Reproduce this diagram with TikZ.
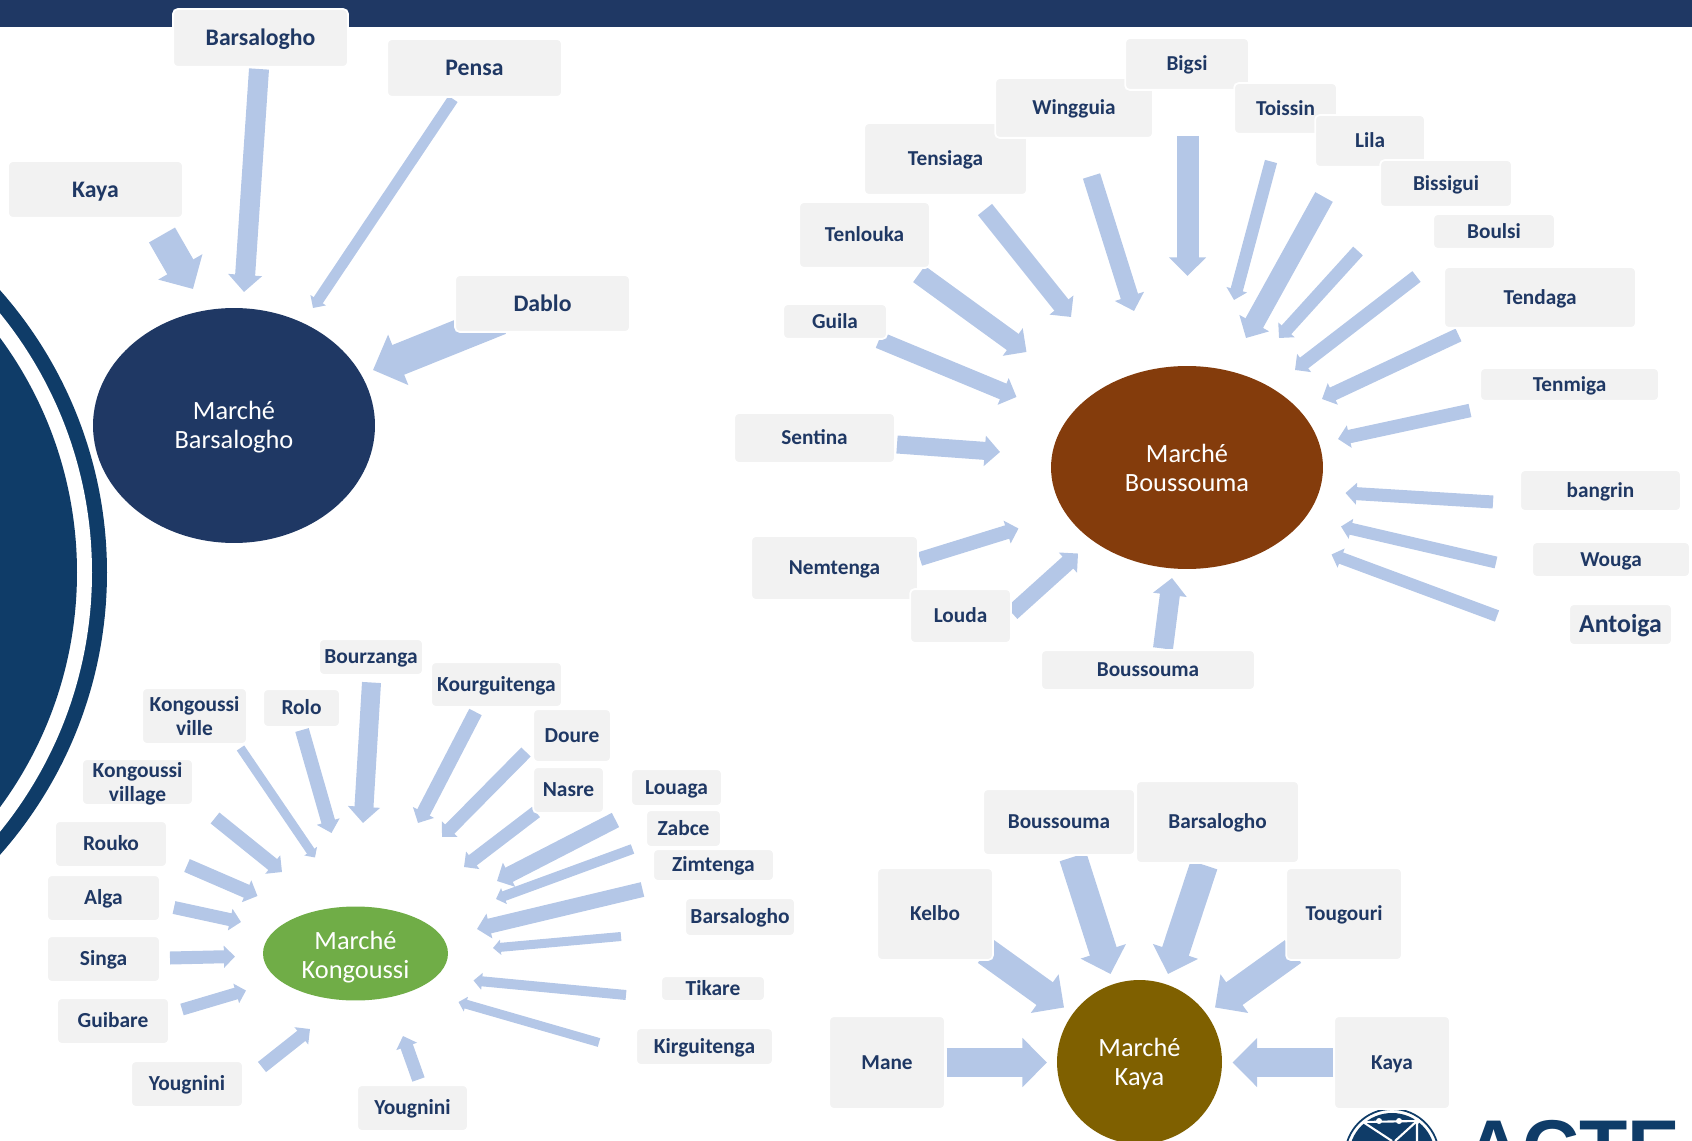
\documentclass[tikz,border=0pt]{standalone}
\usepackage{fontspec}
\setmainfont{Carlito}
\newfontfamily\logofont{Liberation Sans}
\usepackage{tikz}
\usetikzlibrary{shapes.geometric}
\usetikzlibrary{arrows.meta}

\definecolor{navy}{HTML}{1F3864}
\definecolor{ringblue}{HTML}{0F3C68}
\definecolor{arrowblue}{HTML}{B4C7E7}
\definecolor{boxgrey}{HTML}{F2F2F2}
\definecolor{rust}{HTML}{843C0C}
\definecolor{leaf}{HTML}{70AD47}
\definecolor{ochre}{HTML}{7F6000}

\tikzset{
   placebox/.style={
      rectangle,
      fill = boxgrey,
      draw = white,
      line width = 1pt,
      rounded corners = 2.5pt,
      inner sep = 0pt,
      align = center,
      text = navy,
      font = \bfseries\fontsize{#1}{13.6}\selectfont
   },
   market/.style={
      ellipse,
      fill = #1,
      inner sep = 0pt,
      align = center,
      text = white,
      font = \fontsize{15}{16.5}\selectfont
   },
   fatarrow/.style={
      draw = arrowblue,
      line width = #1*0.02cm,
      -{Triangle[length=0pt 0.85, width=0pt 1.65]}
   }
}

% corners of a label box: name, x1, y1, x2, y2, size, text
\newcommand{\placenode}[7]{
   \node[placebox=#6, minimum width={(#4-#2+1.76)*0.02cm}, minimum height={(#5-#3+1.76)*0.02cm}]
      (#1) at ({(#2+#4)/2},{(#3+#5)/2}) {\rule[-.2em]{0pt}{1.05em}#7};
}

\begin{document}
\begin{tikzpicture}[x=0.02cm, y=-0.02cm]
   \useasboundingbox (0,0) rectangle (1692,1141);

   \fill[navy] (0,0) rectangle (1692,27);

   \fill[ringblue] (-319,572.5) circle[radius=426];
   \fill[white] (-319,572.5) circle[radius=411];
   \fill[ringblue] (-319,572.5) circle[radius=396];

   % logo, cut by the page
   \draw[ringblue, line width=1pt] (1392,1156) circle[radius=47];
   \fill[ringblue] (1392,1156) circle[radius=43];
   \draw[white, line width=1.2pt] (1363,1122) -- (1417,1121) -- (1417,1141);
   \draw[white, line width=1.2pt] (1363,1122) -- (1392,1141);
   \draw[white, line width=1.2pt] (1417,1121) -- (1395,1141);
   \foreach \x in {1379,1399,1417}
      \fill[white] (\x,1121) circle[radius=3];
   \node[anchor=base west, inner sep=0pt, text=ringblue,
      font=\logofont\bfseries\fontsize{45}{45}\selectfont] (logotext) at (1465,1175) {ACTE};

   % arrows: name / width / start / tip
   \foreach \n/\w/\sx/\sy/\tx/\ty in {
      bKaya/30/162/235/193/289,
      bBars/20/259/69/244/292,
      bPensa/11/453/99/313/308,
      bDablo/32/500/319/373/370,
      sBigsi/22/1187.5/136/1187.5/276,
      sToissin/12.5/1271/161.5/1234/300,
      sLila/20/1324/197/1246/338,
      sBissigui/13/1358/251/1279/338,
      sBoulsi/13.5/1416.5/276.5/1295/370,
      sTendaga/14/1458.5/335/1322/399,
      sTenmiga/13.5/1470/410.5/1338/439,
      sBangrin/13/1493/502/1345.5/493,
      sWouga/12/1496/562.5/1341/526.5,
      sAntoiga/12/1497/616/1331.5/554.5,
      sBouss/20/1163/648.5/1172/578,
      sLouda/16/1012/613/1078/553.5,
      sNemt/14/920/559/1018.5/528.5,
      sSentina/18/897/444.5/1000/452,
      sGuila/17/879/340/1016.5/397,
      sTenlouka/20/919/274/1026.5/352,
      sTensiaga/18/985/209.5/1071/317,
      sWingguia/18/1091.5/176/1134/311,
      gBourz/19/371.5/682.5/363/823,
      gKourg/14/475.5/712/418/823,
      gDoure/13/526/752/442/837,
      gNasre/13/536/812/464/867,
      gLouaga/16/615.5/820/497/881,
      gZabce/10/632.5/849/496/899,
      gZimt/15/642.5/889.5/477/929,
      gBars/9/621/936.5/493/948,
      gTikare/10/626/995/473.5/980.5,
      gKirg/9/599/1042.5/458.5/1002,
      gYougA/13/418.5/1079.5/403/1036,
      gYougB/13/262/1067/310/1029,
      gGuibare/12/182/1009.5/246/990.5,
      gSinga/13/170/958/235/956.5,
      gAlga/13/174/907.5/241/922,
      gRouko/14/187/865.5/257.5/896,
      gVillage/14/215/818/282/872,
      gVille/9/240.5/748/315/857.5,
      gRolo/14/302/730/331.5/833,
      kBouss/28/1073/857/1110.5/974,
      kBars/28/1204/865/1168/974,
      kKelbo/28/986/951.5/1064/1007.5,
      kToug/28/1293/951.5/1215/1007.5,
      kMane/29/946.5/1062.5/1047/1062.5,
      kKaya/29/1333/1062.5/1232.5/1062.5%
   }{
      \coordinate (\n from) at (\sx,\sy);
      \coordinate (\n to) at (\tx,\ty);
      \draw[fatarrow=\w] (\n from) -- (\n to);
   }

   % Barsalogho
   \node[market=navy, minimum width=5.64cm, minimum height=4.7cm] (mBarsalogho) at (234,425.5) {\rule{0pt}{.85em}March\'e\\Barsalogho};
   \placenode{bBarsalogho}{174}{10}{347}{66}{13.5}{Barsalogho}
   \placenode{bPensa}{388}{40}{561}{96}{13.5}{Pensa}
   \placenode{bKaya}{9}{162}{182}{217}{13.5}{Kaya}
   \placenode{bDablo}{456}{276}{629}{331}{13.5}{Dablo}

   % Boussouma
   \node[market=rust, minimum width=5.44cm, minimum height=4.06cm] (mBoussouma) at (1187,467.5) {March\'e\\Boussouma};
   \placenode{sTensiaga}{865}{124}{1026}{194}{12.1}{Tensiaga}
   \placenode{sWingguia}{996}{79}{1152}{137}{12.1}{Wingguia}
   \placenode{sBigsi}{1126}{39}{1248}{89}{12.1}{Bigsi}
   \placenode{sToissin}{1235}{84}{1336}{133}{12.1}{Toissin}
   \placenode{sLila}{1316}{116}{1424}{166}{12.1}{Lila}
   \placenode{sBissigui}{1381}{161}{1511}{206}{12.1}{Bissigui}
   \placenode{sBoulsi}{1434}{215}{1554}{248}{12.1}{Boulsi}
   \placenode{sTendaga}{1445}{268}{1635}{327}{12.1}{Tendaga}
   \placenode{sTenmiga}{1481}{369}{1658}{400}{12.1}{Tenmiga}
   \placenode{sBangrin}{1521}{471}{1680}{510}{12.1}{bangrin}
   \placenode{sWouga}{1533}{543}{1689}{576}{12.1}{Wouga}
   \placenode{sAntoiga}{1570}{605}{1671}{644}{14.7}{Antoiga}
   \placenode{sBoussouma}{1042}{651}{1254}{689}{12.1}{Boussouma}
   \placenode{sNemtenga}{752}{537}{917}{599}{12.1}{Nemtenga}
   \placenode{sLouda}{911}{590}{1010}{642}{12.1}{Louda}
   \placenode{sSentina}{735}{414}{894}{462}{12.1}{Sentina}
   \placenode{sGuila}{784}{305}{886}{338}{12.1}{Guila}
   \placenode{sTenlouka}{800}{203}{929}{267}{12.1}{Tenlouka}

   % Kongoussi
   \node[market=leaf, minimum width=3.7cm, minimum height=1.88cm] (mKongoussi) at (355.5,953.5) {\rule{0pt}{.95em}March\'e\\Kongoussi};
   \placenode{gBourzanga}{320}{640}{422}{674}{12.2}{Bourzanga}
   \placenode{gKourguitenga}{432}{663}{561}{706}{12.2}{Kourguitenga}
   \placenode{gDoure}{534}{710}{610}{761}{12.2}{Doure}
   \placenode{gNasre}{534}{768}{603}{812}{12.2}{Nasre}
   \placenode{gLouaga}{632}{770}{721}{805}{12.2}{Louaga}
   \placenode{gZabce}{647}{811}{720}{846}{12.2}{Zabce}
   \placenode{gZimtenga}{654}{850}{773}{880}{12.2}{Zimtenga}
   \placenode{gBarsalogho}{686}{899}{794}{935}{12.2}{Barsalogho}
   \placenode{gTikare}{662}{977}{764}{1000}{12.2}{Tikare}
   \placenode{gKirguitenga}{637}{1029}{772}{1064}{12.2}{Kirguitenga}
   \placenode{gYougniniA}{358}{1086}{467}{1130}{12.2}{Yougnini}
   \placenode{gYougniniB}{132}{1062}{242}{1106}{12.2}{Yougnini}
   \placenode{gGuibare}{58}{999}{168}{1043}{12.2}{Guibare}
   \placenode{gSinga}{48}{937}{159}{981}{12.2}{Singa}
   \placenode{gAlga}{48}{876}{159}{920}{12.2}{Alga}
   \placenode{gRouko}{56}{822}{166}{866}{12.2}{Rouko}
   \placenode{gVillage}{83}{760}{192}{804}{12.2}{Kongoussi\\village}
   \placenode{gVille}{143}{689}{246}{743}{12.2}{Kongoussi\\ville\vphantom{g}}
   \placenode{gRolo}{264}{690}{339}{726}{12.2}{Rolo}

   % Kaya
   \node[market=ochre, minimum width=3.3cm, minimum height=3.28cm] (mKaya) at (1139.5,1062) {\rule{0pt}{.85em}March\'e\\Kaya};
   \placenode{kBoussouma}{984}{790}{1134}{854}{12.1}{Boussouma}
   \placenode{kBarsalogho}{1137}{782}{1298}{862}{12.1}{Barsalogho}
   \placenode{kKelbo}{878}{869}{992}{959}{12.1}{Kelbo}
   \placenode{kTougouri}{1287}{869}{1401}{959}{12.1}{Tougouri}
   \placenode{kMane}{830}{1017}{944}{1108}{12.1}{Mane}
   \placenode{kKaya}{1335}{1017}{1449}{1108}{12.1}{Kaya}
\end{tikzpicture}
\end{document}
